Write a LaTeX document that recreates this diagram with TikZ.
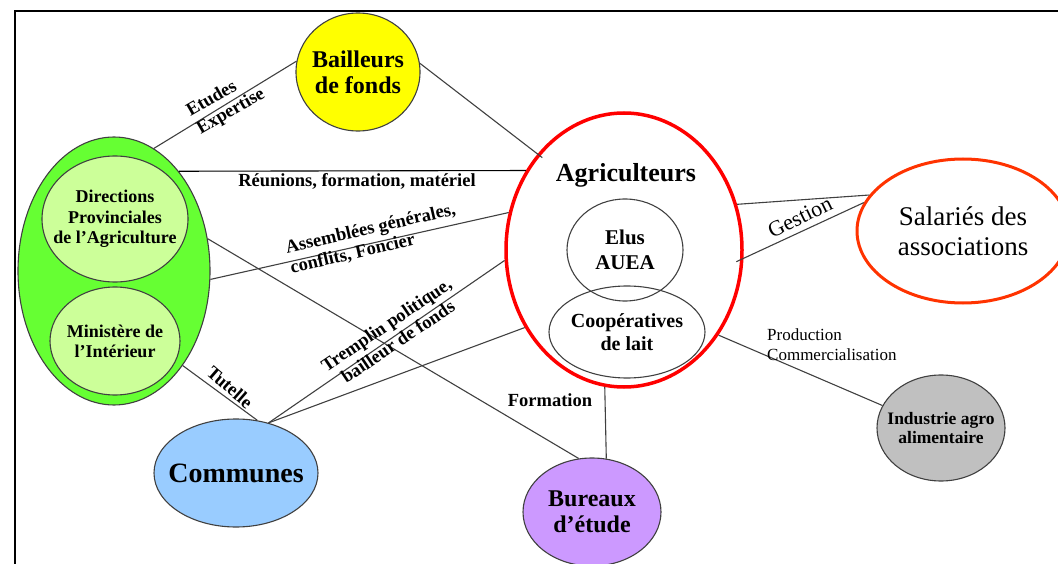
\documentclass[tikz,border=0pt]{standalone}
\usepackage{fontspec}
\setmainfont{Liberation Serif}
\usetikzlibrary{shapes.geometric}

\definecolor{vertfonce}{HTML}{66FF33}
\definecolor{vertclair}{HTML}{CCFF99}
\definecolor{jaune}{HTML}{FFFF00}
\definecolor{bleuciel}{HTML}{99CCFF}
\definecolor{mauve}{HTML}{CC99FF}
\definecolor{gris}{HTML}{C0C0C0}
\definecolor{trait}{HTML}{404040}
\definecolor{orangesal}{HTML}{FF3300}

\newcommand\fsz[2]{\fontsize{#1}{#2}\selectfont}

\begin{document}
\begin{tikzpicture}[x=1pt, y=-1pt,
    bulle/.style={ellipse, draw=trait, line width=1.1pt, inner sep=0pt},
    lien/.style={draw=trait, line width=1.1pt},
    etiq/.style={inner sep=0pt, align=center, font=\bfseries\fsz{18.5}{20.5}}]

  \useasboundingbox (0,0) rectangle (1058,564);
  \clip (0,0) rectangle (1058,564);
  \draw[line width=2pt] (1070,11) -- (15,11) -- (15,580);

  % acteurs
  \node[bulle, fill=jaune, minimum width=124, minimum height=118,
        label={[align=center, font=\bfseries\fsz{24}{26}]center:Bailleurs\\de fonds}] (bail) at (358,72) {};
  \node[bulle, fill=vertfonce, minimum width=192, minimum height=268] (etat) at (114,271) {};
  \node[bulle, fill=vertclair, minimum width=146, minimum height=126,
        label={[align=center, font=\bfseries\fsz{18}{20.5}]center:Directions\\Provinciales\\de l’Agriculture}] (dpa) at (115,219) {};
  \node[bulle, fill=vertclair, minimum width=130, minimum height=108,
        label={[align=center, font=\bfseries\fsz{18}{20}]center:Ministère de\\l’Intérieur}] (mint) at (115,341) {};

  \node[bulle, draw=red, line width=3.5pt, minimum width=236, minimum height=274] (agri) at (624,250) {};
  \node[font=\bfseries\fsz{26}{28}, anchor=base] (agri-t) at (626,182) {Agriculteurs};
  \node[bulle, minimum width=116, minimum height=102,
        label={[align=center, font=\bfseries\fsz{21}{25}]center:Elus\\AUEA}] (elus) at (625,250) {};
  \node[bulle, minimum width=156, minimum height=92,
        label={[align=center, font=\bfseries\fsz{20}{23}]center:Coopératives\\de lait}] (coop) at (627,332) {};

  \node[bulle, draw=orangesal, line width=3pt, minimum width=212, minimum height=144,
        label={[align=center, font=\fsz{27}{30}]center:Salariés des\\associations}] (sal) at (963,231) {};
  \node[bulle, fill=gris, minimum width=128, minimum height=106,
        label={[align=center, font=\bfseries\fsz{17.5}{19}]center:Industrie agro\\alimentaire}] (ind) at (941,428) {};
  \node[bulle, fill=mauve, minimum width=138, minimum height=108,
        label={[align=center, font=\bfseries\fsz{24}{26}]center:Bureaux\\d’étude}] (bur) at (592,512) {};
  \node[bulle, fill=bleuciel, minimum width=164, minimum height=108,
        label={[font=\bfseries\fsz{28}{30}]center:Communes}] (com) at (236,473) {};

  % relations
  \draw[lien] (etat.72.3) -- (bail.170.8);
  \draw[lien, shorten >=-6pt] (bail.8.6) -- (agri.132.7);
  \draw[lien, draw=black] (etat.57) -- (agri.141);
  \draw[lien] (etat.-5.4) -- (agri.162.7);
  \draw[lien] (etat.19.3) -- (bur.104.5);
  \draw[lien] (etat.-54.4) -- (com.68.8);
  \draw[lien] (com.57.4) -- (agri.185.7);
  \draw[lien] (com.57.4) -- (agri.218.4);
  \draw[lien] (agri.22.3) -- (sal.159.9);
  \draw[lien, shorten <=-8pt] (agri.-4.5) -- (sal.164.4);
  \draw[lien] (agri.-42.4) -- (ind.159.7);
  \draw[lien] (agri.262.4) -- (bur.75.5);

  % etiquettes
  \node[etiq, rotate=30, align=left] (l-etudes) at (226,103) {Etudes\\Expertise};
  \node[etiq, anchor=base] (l-reunions) at (357,187) {Réunions, formation, matériel};
  \node[etiq, rotate=13, align=left] (l-assemblees) at (373,239) {Assemblées générales,\\conflits, Foncier};
  \node[etiq, rotate=34] (l-tremplin) at (392,333) {Tremplin politique,\\bailleur de fonds};
  \node[etiq, rotate=-41] (l-tutelle) at (230,387) {Tutelle};
  \node[etiq, anchor=base] (l-formation) at (550,406) {Formation};
  \node[etiq, font=\fsz{22}{24}, rotate=26] (l-gestion) at (800,217) {Gestion};
  \node[etiq, font=\fsz{17}{20}, align=left, anchor=west] (l-prod) at (767,345) {Production\\Commercialisation};

\end{tikzpicture}
\end{document}
